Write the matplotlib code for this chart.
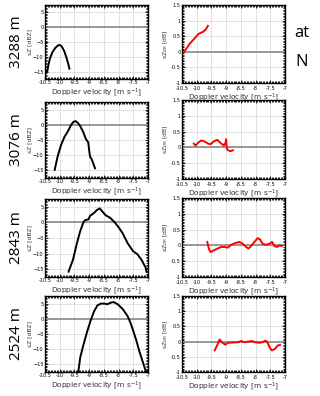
import matplotlib.pyplot as plt
from matplotlib.ticker import MultipleLocator

# heights of the four range gates
heights = ["3288 m", "3076 m", "2843 m", "2524 m"]

# sZ spectra (Doppler velocity, dBZ)
v1 = [-10.48, -10.42, -10.38, -10.33, -10.25, -10.15, -10.05, -10.0, -9.93, -9.85, -9.78, -9.72, -9.67]
z1 = [-15.0, -14.9, -12.5, -10.5, -8.5, -7.0, -6.1, -6.0, -6.5, -8.0, -10.0, -12.0, -14.0]

v2 = [-10.17, -10.07, -9.96, -9.84, -9.72, -9.61, -9.53, -9.46, -9.38, -9.3, -9.2, -9.11, -9.03, -9.0, -8.97, -8.91, -8.8]
z2 = [-14.8, -10.4, -6.8, -4.0, -2.1, 0.0, 1.0, 1.2, 0.6, -0.5, -2.4, -4.7, -5.8, -8.4, -10.4, -11.4, -14.3]

v3 = [-9.7, -9.55, -9.43, -9.31, -9.2, -9.14, -9.02, -8.97, -8.85, -8.73, -8.64, -8.56, -8.44, -8.29,
      -8.15, -8.01, -7.86, -7.69, -7.51, -7.36, -7.22, -7.08, -7.05]
z3 = [-15.8, -12.0, -7.2, -3.0, -0.1, 0.7, 1.0, 2.1, 2.9, 4.0, 4.5, 3.6, 2.3, 1.5,
      0.2, -1.4, -3.5, -6.7, -9.2, -10.2, -12.0, -14.5, -15.8]

v4 = [-9.37, -9.3, -9.2, -9.08, -8.96, -8.84, -8.72, -8.6, -8.49, -8.38, -8.27, -8.17, -8.03,
      -7.86, -7.7, -7.6, -7.5, -7.4, -7.3, -7.2, -7.1, -7.05]
z4 = [-17.5, -12.6, -8.8, -4.6, -0.9, 2.3, 4.4, 5.0, 5.0, 4.8, 5.3, 5.5, 4.8,
      3.2, 1.0, -1.2, -4.0, -7.0, -10.5, -13.5, -16.5, -17.5]

# sZDR spectra (Doppler velocity, dB)
w1 = [-10.42, -10.35, -10.27, -10.18, -10.1, -10.02, -9.94, -9.88, -9.77, -9.69, -9.62]
d1 = [0.0, 0.1, 0.22, 0.32, 0.4, 0.49, 0.57, 0.6, 0.65, 0.72, 0.83]

w2 = [-10.1, -10.04, -9.96, -9.85, -9.73, -9.62, -9.53, -9.42, -9.3, -9.19, -9.08, -9.02, -9.0,
      -8.98, -8.94, -8.85, -8.77]
d2 = [0.12, 0.06, 0.14, 0.22, 0.19, 0.12, 0.1, 0.19, 0.24, 0.14, 0.06, 0.14, 0.26,
      -0.02, -0.09, -0.12, -0.09]

w3 = [-9.64, -9.59, -9.53, -9.42, -9.3, -9.17, -9.06, -8.94, -8.83, -8.7, -8.55, -8.43, -8.32, -8.24,
      -8.15, -8.04, -7.93, -7.85, -7.76, -7.64, -7.53, -7.44, -7.36, -7.27, -7.19, -7.11]
d3 = [0.11, -0.1, -0.21, -0.16, -0.1, -0.05, -0.05, -0.07, 0.02, 0.07, 0.11, 0.05, -0.05, -0.1,
      -0.02, 0.11, 0.23, 0.19, 0.05, 0.02, 0.05, 0.11, -0.02, -0.05, 0.0, -0.02]

w4 = [-9.39, -9.31, -9.22, -9.15, -9.03, -8.94, -8.77, -8.6, -8.49, -8.38, -8.24, -8.13, -8.02,
      -7.87, -7.76, -7.68, -7.61, -7.53, -7.45, -7.34, -7.25, -7.17]
d4 = [-0.29, -0.13, 0.07, -0.02, -0.1, -0.04, -0.03, -0.02, 0.02, -0.02, 0.0, 0.02, -0.02,
      -0.04, -0.02, 0.03, 0.0, -0.18, -0.29, -0.24, -0.13, -0.11]

sz = [(v1, z1), (v2, z2), (v3, z3), (v4, z4)]
szdr = [(w1, d1), (w2, d2), (w3, d3), (w4, d4)]

xticks = [-10.5, -10, -9.5, -9, -8.5, -8, -7.5, -7]
xticklabels = ["-10.5", "-10", "-9.5", "-9", "-8.5", "-8", "-7.5", "-7"]

W, H = 320, 396
fig = plt.figure(figsize=(W / 100, H / 100), dpi=100)

def px_axes(x0, y0, x1, y1):
    return fig.add_axes([x0 / W, 1 - y1 / H, (x1 - x0) / W, (y1 - y0) / H])

# pixel boxes (left, top, right, bottom)
left_boxes = [(45, 5, 148, 79), (45, 102, 148, 178), (45, 199, 148, 277), (45, 296, 148, 372)]
right_boxes = [(182, 5, 285, 83), (182, 100, 285, 179), (182, 198, 285, 277), (182, 296, 285, 372)]

def style(ax, xpad):
    ax.set_xlim(-10.5, -7)
    ax.set_xticks(xticks)
    ax.set_xticklabels(xticklabels)
    ax.xaxis.set_minor_locator(MultipleLocator(0.05))
    ax.grid(True, color="#dddddd", linewidth=0.6)
    ax.set_axisbelow(True)
    ax.tick_params(which="both", direction="in", top=True, right=True, labelsize=3.6, pad=1)
    ax.tick_params(axis="x", pad=xpad)
    ax.tick_params(which="major", length=2.5, width=0.6)
    ax.tick_params(which="minor", length=1.5, width=0.6)
    for s in ax.spines.values():
        s.set_linewidth(1.0)
    ax.set_xlabel("Doppler velocity [m s$^{-1}$]", fontsize=5.3, labelpad=0.5, color="#333333")

for i in range(4):
    ax = px_axes(*left_boxes[i])
    style(ax, 1)
    ax.set_ylim(-17.5, 7.5)
    ax.set_yticks([-15, -10, -5, 0, 5])
    ax.yaxis.set_minor_locator(MultipleLocator(0.5))
    ax.axhline(0, color="#888888", linewidth=1.2)
    ax.plot(sz[i][0], sz[i][1], color="black", linewidth=1.4)
    ax.set_ylabel("sZ [dBZ]", fontsize=4.3, labelpad=0.5, color="#333333")
    fig.text(16 / W, 1 - ((left_boxes[i][1] + left_boxes[i][3]) / 2) / H, heights[i],
             rotation=90, ha="center", va="center", fontsize=11, family="Open Sans")

    ax = px_axes(*right_boxes[i])
    style(ax, 2)
    ax.set_ylim(-1, 1.5)
    ax.set_yticks([-1, -0.5, 0, 0.5, 1, 1.5])
    ax.set_yticklabels(["-1", "-0.5", "0", "0.5", "1", "1.5"])
    ax.yaxis.set_minor_locator(MultipleLocator(0.05))
    ax.axhline(0, color="#888888", linewidth=1.2)
    ax.plot(szdr[i][0], szdr[i][1], color="red", linewidth=1.4)
    ax.set_ylabel("sZ$_{DR}$ [dB]", fontsize=4.3, labelpad=0.5, color="#333333")

fig.text(302 / W, 1 - 33 / H, "at", ha="center", va="center", fontsize=12, family="Open Sans")
fig.text(302 / W, 1 - 62 / H, "N", ha="center", va="center", fontsize=12, family="Open Sans")

fig.savefig("out.png", dpi=100)
